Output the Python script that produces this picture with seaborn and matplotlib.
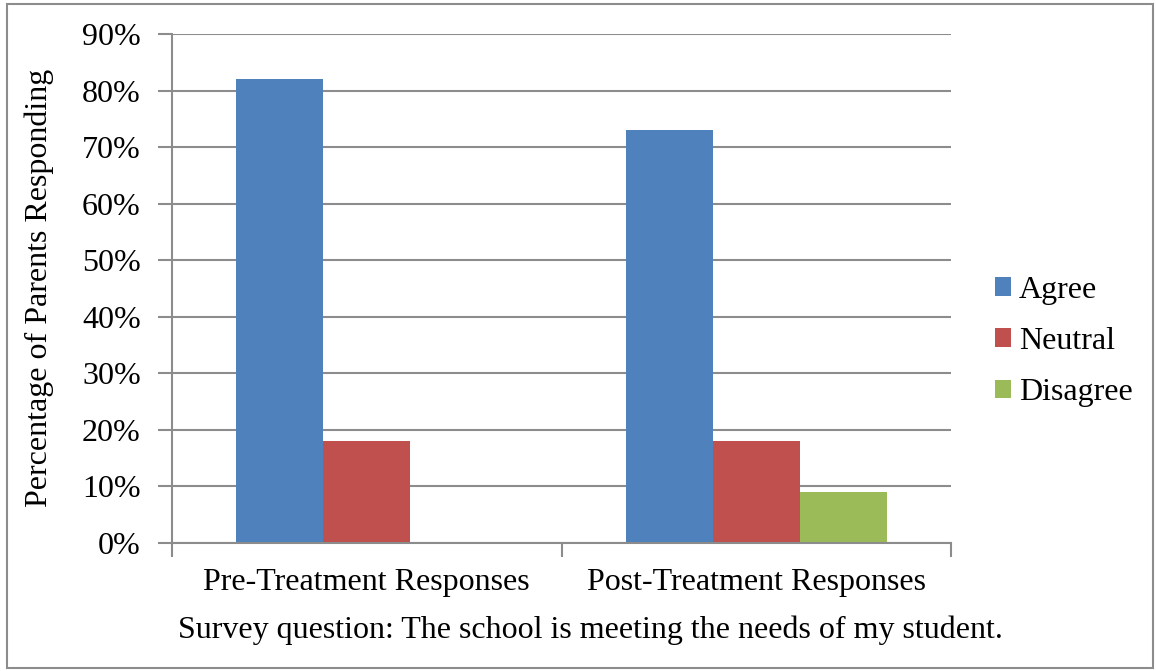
import matplotlib
matplotlib.use("Agg")
import matplotlib.pyplot as plt
import seaborn as sns
import pandas as pd
from matplotlib.patches import Rectangle
from matplotlib.ticker import FixedLocator, PercentFormatter

periods = ["Pre-Treatment Responses", "Post-Treatment Responses"]
responses = ["Agree", "Neutral", "Disagree"]
agree = [82, 73]
neutral = [18, 18]
disagree = [0, 9]
colors = ["#4F81BD", "#C0504D", "#9BBB59"]

df = pd.DataFrame({
    "period": periods * 3,
    "response": [r for r in responses for _ in periods],
    "pct": agree + neutral + disagree,
})

sns.set_theme(style="white")
plt.rcParams["font.family"] = ["Liberation Serif", "DejaVu Serif"]
plt.rcParams["text.color"] = "black"
plt.rcParams["axes.labelcolor"] = "black"

fig = plt.figure(figsize=(11.56, 6.71), dpi=100)
ax = fig.add_axes([172 / 1156, 1 - 543 / 671, (951 - 172) / 1156, (543 - 34) / 671])

sns.barplot(data=df, x="period", y="pct", hue="response", order=periods,
            hue_order=responses, palette=colors, width=0.67, saturation=1,
            edgecolor="none", linewidth=0, ax=ax)

grid_c = "#8C8C8C"
fs = 23
ax.set_ylim(0, 90)
ax.set_xlim(-0.5, 1.5)
ax.yaxis.set_major_locator(FixedLocator(range(0, 91, 10)))
ax.yaxis.set_major_formatter(PercentFormatter(decimals=0))
ax.grid(axis="y", color=grid_c, linewidth=1.5)
ax.set_axisbelow(True)
for s in ["top", "right"]:
    ax.spines[s].set_visible(False)
for s in ["left", "bottom"]:
    ax.spines[s].set_color(grid_c)
    ax.spines[s].set_linewidth(1.5)

ax.xaxis.set_minor_locator(FixedLocator([-0.5, 0.5, 1.5]))
ax.tick_params(axis="x", which="major", length=0, pad=18, labelsize=fs, labelcolor="black")
ax.tick_params(axis="x", which="minor", length=10, width=1.5, color=grid_c, direction="out", bottom=True)
ax.tick_params(axis="y", length=10, width=1.5, color=grid_c, direction="out", left=True,
               labelsize=fs, pad=12.5, labelcolor="black")

ax.set_xlabel("Survey question: The school is meeting the needs of my student.", fontsize=fs)
ax.set_ylabel("Percentage of Parents Responding", fontsize=fs)
ax.xaxis.set_label_coords(0.5366, -0.142)
ax.yaxis.set_label_coords(-0.152, 0.502)

ax.legend(loc="center left", bbox_to_anchor=(1.0565, 0.396), frameon=False,
          fontsize=fs, handlelength=0.5, handleheight=0.5, handletextpad=0.25,
          labelspacing=0.69, borderaxespad=0, borderpad=0)

fig.patches.append(Rectangle((7 / 1156, 3 / 671), 1 - 10 / 1156, 1 - 7 / 671,
                             transform=fig.transFigure, fill=False,
                             edgecolor="#8C8C8C", linewidth=1.5))

fig.savefig("out.png", dpi=100)
